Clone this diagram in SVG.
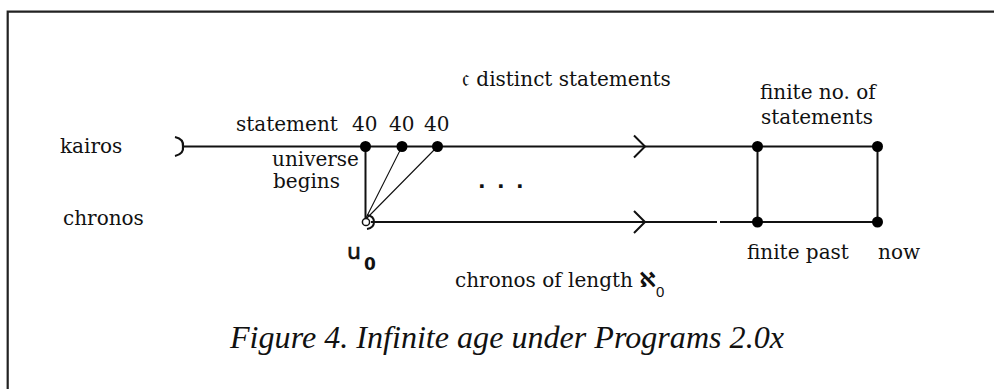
<svg xmlns="http://www.w3.org/2000/svg" width="994" height="389" viewBox="0 0 994 389">
<style>
.lbl{font-family:"DejaVu Serif","Liberation Serif",serif;font-size:20px;fill:#111}
.cap{font-family:"Liberation Serif","Times New Roman",serif;font-style:italic;font-size:31px;fill:#111}
.ln{stroke:#111;stroke-width:2;fill:none}
.thin{stroke:#111;stroke-width:1.1;fill:none}
.dot{fill:#000}
</style>
<rect width="994" height="389" fill="#fff"/>
<path d="M7.7 389 V11.7 H994" fill="none" stroke="#222" stroke-width="2.2"/>
<g id="connectors">
<path class="ln" d="M183 146.5 H877.5"/>
<path class="ln" d="M371 222 H717 M720 222 H877.5"/>
<path class="ln" d="M365.5 146.5 V218"/>
<path class="thin" d="M366 218 L402 146.5 M367 218 L437.5 146.5"/>
<path class="ln" d="M757.5 146.5 V222 M877.5 146.5 V222"/>
<path class="ln" d="M634 135.5 L645 146.5 L634 157.5"/>
<path class="ln" d="M634 211 L645 222 L634 233"/>
</g>
<g id="kairos-start"><path d="M175 137 Q184 139 183 146.5 Q184 154 175 156" fill="none" stroke="#111" stroke-width="2.2"/></g>
<g id="statement-1"><circle class="dot" cx="365.5" cy="146.5" r="5.5"/></g>
<g id="statement-2"><circle class="dot" cx="402" cy="146.5" r="5.5"/></g>
<g id="statement-3"><circle class="dot" cx="437.5" cy="146.5" r="5.5"/></g>
<g id="finite-statements"><circle class="dot" cx="757.5" cy="146.5" r="5.5"/></g>
<g id="now-kairos"><circle class="dot" cx="877.5" cy="146.5" r="5.5"/></g>
<g id="finite-past"><circle class="dot" cx="757.5" cy="222" r="5.5"/></g>
<g id="now"><circle class="dot" cx="877.5" cy="222" r="5.5"/></g>
<g id="u0">
<circle cx="366" cy="222" r="3.6" fill="#fff" stroke="#111" stroke-width="1.5"/>
<path d="M367 215 Q374 216 374 222 Q374 228 367 229" fill="none" stroke="#111" stroke-width="2"/>
<text x="347" y="259" style="font-family:'DejaVu Sans',sans-serif;font-size:22px;fill:#111;stroke:#111;stroke-width:0.6">u</text>
<text x="364" y="270" style="font-family:'DejaVu Sans',sans-serif;font-size:17px;font-weight:bold;fill:#111">0</text>
</g>
<g id="labels">
<text class="lbl" x="60" y="153">kairos</text>
<text class="lbl" x="63" y="225">chronos</text>
<text class="lbl" x="462" y="86"><tspan style="font-size:24px">𝔠</tspan> distinct statements</text>
<text class="lbl" x="760" y="99">finite no. of</text>
<text class="lbl" x="761" y="124">statements</text>
<text class="lbl" x="236" y="131">statement</text>
<text class="lbl" x="352" y="131">40</text>
<text class="lbl" x="389" y="131">40</text>
<text class="lbl" x="424" y="131">40</text>
<text class="lbl" x="272" y="166">universe</text>
<text class="lbl" x="273" y="188">begins</text>
<text x="478" y="188" style="font-family:'DejaVu Sans',sans-serif;font-size:20px;font-weight:bold;letter-spacing:11.4px;fill:#111">...</text>
<text class="lbl" x="747" y="259">finite past</text>
<text class="lbl" x="878" y="259">now</text>
<text class="lbl" x="455" y="287">chronos of length <tspan style="font-family:'DejaVu Sans',sans-serif;font-weight:bold;font-size:21px">ℵ</tspan><tspan dy="10" style="font-family:'Liberation Sans',sans-serif;font-size:15px">0</tspan></text>
</g>
<text class="cap" x="230" y="348" textLength="554" lengthAdjust="spacingAndGlyphs">Figure 4. Infinite age under Programs 2.0x</text>
</svg>
